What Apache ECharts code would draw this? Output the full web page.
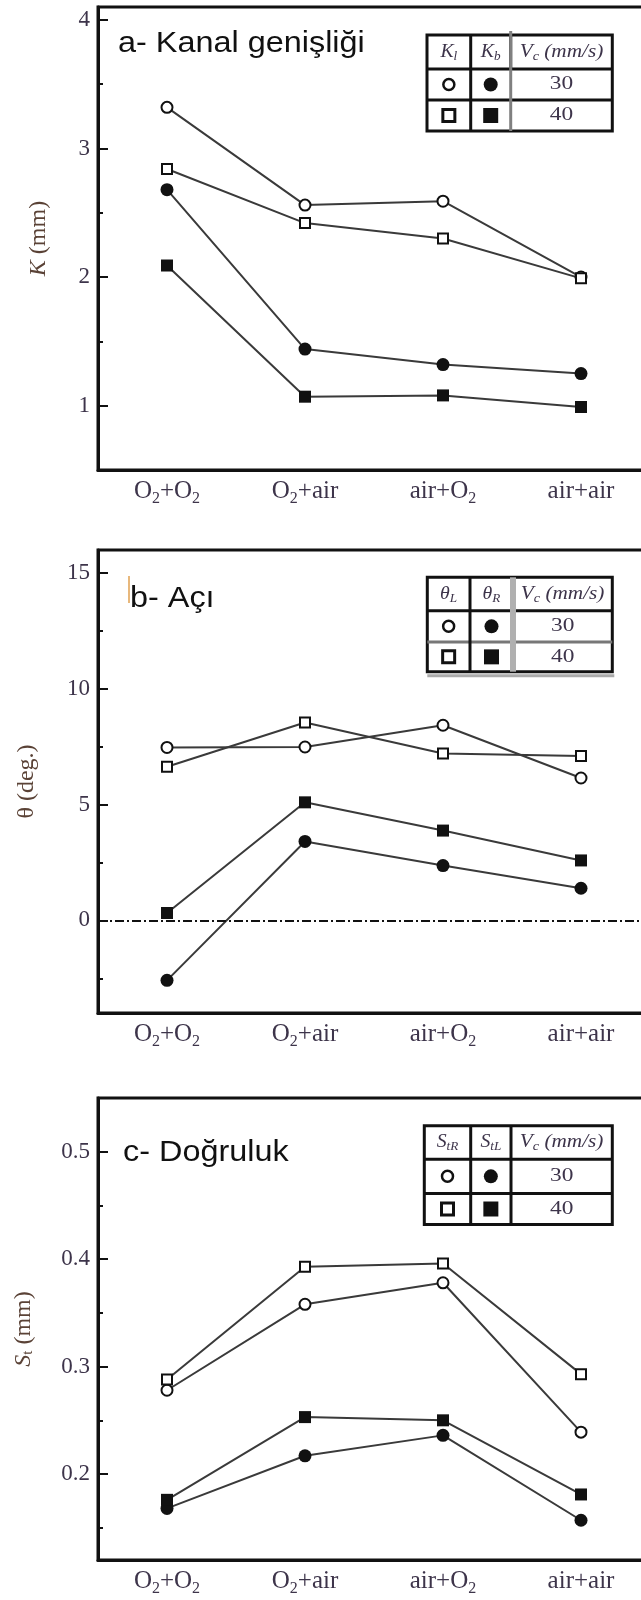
<!DOCTYPE html>
<html lang="tr">
<head>
<meta charset="UTF-8">
<script src="https://cdn.jsdelivr.net/npm/echarts@6/dist/echarts.min.js"></script>
<style>
  body { margin: 0; background: #fff; }
  #chart { width: 641px; height: 1600px; }
</style>
</head>
<body>
<div id="chart"></div>
<script>
// x categories (gas combinations)
var categories = ['O2+O2', 'O2+air', 'air+O2', 'air+air'];
var catLabels = ['O{s|2}+O{s|2}', 'O{s|2}+air', 'air+O{s|2}', 'air+air'];

// a- Kanal genisligi : K (mm)  open = K_l, filled = K_b ; 30 / 40 mm/s
var kOpen30 = [3.32, 2.56, 2.59, 2.00];
var kOpen40 = [2.84, 2.42, 2.30, 1.99];
var kFill30 = [2.68, 1.44, 1.32, 1.25];
var kFill40 = [2.09, 1.07, 1.08, 0.99];

// b- Aci : theta (deg.)
var tOpen30 = [7.47, 7.49, 8.43, 6.15];
var tOpen40 = [6.64, 8.55, 7.21, 7.10];
var tFill30 = [-2.59, 3.41, 2.37, 1.39];
var tFill40 = [0.32, 5.10, 3.88, 2.59];

// c- Dogruluk : S_t (mm)
var sOpen30 = [0.278, 0.358, 0.378, 0.239];
var sOpen40 = [0.288, 0.393, 0.396, 0.293];
var sFill30 = [0.168, 0.217, 0.236, 0.157];
var sFill40 = [0.176, 0.253, 0.250, 0.181];

// axis ticks
var kTicks = [1, 2, 3, 4], kMinor = [1.5, 2.5, 3.5];
var tTicks = [0, 5, 10, 15], tMinor = [-2.5, 2.5, 7.5, 12.5];
var sTicks = [0.2, 0.3, 0.4, 0.5], sMinor = [0.15, 0.25, 0.35, 0.45];

var chart = echarts.init(document.getElementById('chart'));

var SERIF = '"Liberation Serif", "DejaVu Serif", serif';
var SANS = '"Liberation Sans", Arial, sans-serif';
var INK = '#111';
var TXT = '#3d344a';
var NAME = '#5a4236';

var panels = [
  { top: 7, height: 463, min: 0.5, max: 4.1, ticks: kTicks, minor: kMinor,
    name: '{i|K} (mm)', nameGap: 47, series: [kOpen30, kOpen40, kFill30, kFill40] },
  { top: 550, height: 463, min: -4, max: 16, ticks: tTicks, minor: tMinor,
    name: 'θ (deg.)', nameGap: 59, series: [tOpen30, tOpen40, tFill30, tFill40] },
  { top: 1098, height: 462, min: 0.12, max: 0.55, ticks: sTicks, minor: sMinor,
    name: '{i|S}{s|t} (mm)', nameGap: 62, series: [sOpen30, sOpen40, sFill30, sFill40] }
];

var marks = [
  { symbol: 'circle', size: 11, fill: '#fff' },
  { symbol: 'rect', size: 10, fill: '#fff' },
  { symbol: 'circle', size: 13, fill: INK },
  { symbol: 'rect', size: 12, fill: INK }
];

var grids = [], xAxes = [], yAxes = [], minorAxes = [], series = [];

panels.forEach(function (p, i) {
  grids.push({
    left: 98, top: p.top, width: 552, height: p.height,
    show: true, borderColor: INK, borderWidth: 3,
    outerBoundsMode: 'none'
  });
  xAxes.push({
    type: 'category', gridIndex: i, data: categories, boundaryGap: true,
    axisLine: { onZero: false, lineStyle: { color: INK, width: 3 } },
    axisTick: { inside: true, alignWithLabel: true, length: 10, lineStyle: { color: INK, width: 2 } },
    axisLabel: {
      interval: 0, margin: 5, color: TXT, fontFamily: SERIF, fontSize: 25, lineHeight: 32,
      formatter: function (v, idx) { return catLabels[idx]; },
      rich: { s: { fontFamily: SERIF, fontSize: 16, lineHeight: 16, verticalAlign: 'bottom', color: TXT } }
    },
    splitLine: { show: false }
  });
  yAxes.push({
    type: 'value', gridIndex: i, position: 'left', min: p.min, max: p.max,
    name: p.name, nameLocation: 'middle', nameGap: p.nameGap, nameRotate: 90,
    nameTextStyle: {
      fontFamily: SERIF, fontSize: 24, color: NAME,
      rich: {
        i: { fontFamily: SERIF, fontSize: 24, fontStyle: 'italic', color: NAME },
        s: { fontFamily: SERIF, fontSize: 15, verticalAlign: 'bottom', color: NAME }
      }
    },
    axisLine: { show: true, lineStyle: { color: INK, width: 3 } },
    axisTick: { show: true, inside: true, length: 10, customValues: p.ticks, lineStyle: { color: INK, width: 2 } },
    axisLabel: { customValues: p.ticks, margin: 8, color: TXT, fontFamily: SERIF, fontSize: 23 },
    splitLine: { show: false }
  });
  minorAxes.push({
    type: 'value', gridIndex: i, position: 'left', min: p.min, max: p.max,
    axisLine: { show: false },
    axisTick: { show: true, inside: true, length: 5, customValues: p.minor, lineStyle: { color: INK, width: 2 } },
    axisLabel: { show: false },
    splitLine: { show: false }
  });
  p.series.forEach(function (vals, k) {
    var m = marks[k];
    var s = {
      type: 'line', xAxisIndex: i, yAxisIndex: i, data: vals,
      symbol: m.symbol, symbolSize: m.size, showAllSymbol: true,
      lineStyle: { color: '#3a3a3a', width: 2 },
      itemStyle: { color: m.fill, borderColor: INK, borderWidth: m.fill === '#fff' ? 2 : 0, opacity: 1 },
      z: 3, animation: false, silent: true
    };
    if (i === 1 && k === 0) {
      // dash-dot zero line
      s.markLine = {
        silent: true, symbol: ['none', 'none'], label: { show: false },
        lineStyle: { color: INK, width: 2, type: [9, 3, 2, 3] },
        data: [{ yAxis: 0 }]
      };
    }
    series.push(s);
  });
});

// legend tables
function legendTable(xs, ys, h1, h2, opts) {
  opts = opts || {};
  var els = [];
  var cx = [(xs[0] + xs[1]) / 2, (xs[1] + xs[2]) / 2, (xs[2] + xs[3]) / 2];
  var cy = [(ys[0] + ys[1]) / 2, (ys[1] + ys[2]) / 2, (ys[2] + ys[3]) / 2];
  if (opts.shadow) {
    els.push({ type: 'line', shape: { x1: xs[0], y1: ys[3] + 4, x2: xs[3] + 2, y2: ys[3] + 4 },
      style: { stroke: '#aaa', lineWidth: 3 } });
  }
  els.push({ type: 'rect', shape: { x: xs[0], y: ys[0], width: xs[3] - xs[0], height: ys[3] - ys[0] },
    style: { fill: '#fff', stroke: INK, lineWidth: 3 }, z: 10 });
  els.push({ type: 'line', shape: { x1: xs[0], y1: ys[1], x2: xs[3], y2: ys[1] }, style: { stroke: INK, lineWidth: 3 }, z: 11 });
  els.push({ type: 'line', shape: { x1: xs[0], y1: ys[2], x2: xs[3], y2: ys[2] },
    style: { stroke: opts.row2 || INK, lineWidth: 3 }, z: 11 });
  els.push({ type: 'line', shape: { x1: xs[1], y1: ys[0], x2: xs[1], y2: ys[3] }, style: { stroke: INK, lineWidth: 3 }, z: 11 });
  if (opts.col2) {
    els.push({ type: 'line', shape: { x1: xs[2], y1: ys[0], x2: xs[2], y2: ys[1] }, style: { stroke: INK, lineWidth: 3 }, z: 11 });
    els.push({ type: 'line', shape: { x1: xs[2], y1: opts.col2Top || ys[0], x2: xs[2], y2: ys[3] },
      style: { stroke: opts.col2, lineWidth: opts.col2W || 3 }, z: 11 });
  } else {
    els.push({ type: 'line', shape: { x1: xs[2], y1: ys[0], x2: xs[2], y2: ys[3] }, style: { stroke: INK, lineWidth: 3 }, z: 11 });
  }
  var rich = {
    i: { fontFamily: SERIF, fontStyle: 'italic', fontSize: 18, fill: TXT, color: TXT },
    s: { fontFamily: SERIF, fontStyle: 'italic', fontSize: 12, fill: TXT, color: TXT, padding: [9, 0, 0, 0] }
  };
  [h1, h2, '{i|V}{s|c}{i| (mm/s)}'].forEach(function (t, k) {
    els.push({ type: 'text', x: cx[k], y: cy[0], z: 12, scaleX: k === 2 ? 1.18 : 1.1,
      style: { text: t, rich: rich, align: 'center', verticalAlign: 'middle', fill: TXT } });
  });
  els.push({ type: 'circle', shape: { cx: cx[0], cy: cy[1], r: 5.5 }, style: { fill: '#fff', stroke: INK, lineWidth: 2.5 }, z: 12 });
  els.push({ type: 'circle', shape: { cx: cx[1], cy: cy[1], r: 7 }, style: { fill: INK }, z: 12 });
  els.push({ type: 'rect', shape: { x: cx[0] - 6, y: cy[2] - 6, width: 12, height: 12 }, style: { fill: '#fff', stroke: INK, lineWidth: 3 }, z: 12 });
  els.push({ type: 'rect', shape: { x: cx[1] - 7.5, y: cy[2] - 7.5, width: 15, height: 15 }, style: { fill: INK }, z: 12 });
  ['30', '40'].forEach(function (t, k) {
    els.push({ type: 'text', x: cx[2], y: cy[k + 1], z: 12, scaleX: 1.3,
      style: { text: t, font: '18px ' + SERIF, fill: TXT, align: 'center', verticalAlign: 'middle' } });
  });
  return els;
}

var graphics = [];
graphics = graphics.concat(legendTable([427, 470.7, 510.7, 612.3], [35, 69, 100, 131],
  '{i|K}{s|l}', '{i|K}{s|b}', { col2: '#808080', col2Top: 31 }));
graphics = graphics.concat(legendTable([427.3, 470, 513, 612.3], [577.3, 610.7, 642, 671.7],
  '{i|θ}{s|L}', '{i|θ}{s|R}', { col2: '#b0b0b0', col2W: 6, row2: '#777', shadow: true }));
graphics = graphics.concat(legendTable([424.3, 470.7, 511, 612.3], [1125.7, 1159.3, 1193.4, 1224.6],
  '{i|S}{s|tR}', '{i|S}{s|tL}'));

// panel titles
[['a- Kanal genişliği', 118, 44], ['b- Açı', 130, 598.5], ['c- Doğruluk', 123, 1152.4]].forEach(function (t) {
  graphics.push({ type: 'text', x: t[1], y: t[2], z: 12, scaleX: 1.08,
    style: { text: t[0], font: '30px ' + SANS, fill: INK, verticalAlign: 'middle' } });
});
graphics.push({ type: 'line', shape: { x1: 129, y1: 576, x2: 129, y2: 603 }, style: { stroke: '#e0a050', lineWidth: 1.5 }, z: 12 });

chart.setOption({
  backgroundColor: '#fff',
  animation: false,
  grid: grids,
  xAxis: xAxes,
  yAxis: yAxes.concat(minorAxes),
  series: series,
  graphic: graphics
});
</script>
</body>
</html>
